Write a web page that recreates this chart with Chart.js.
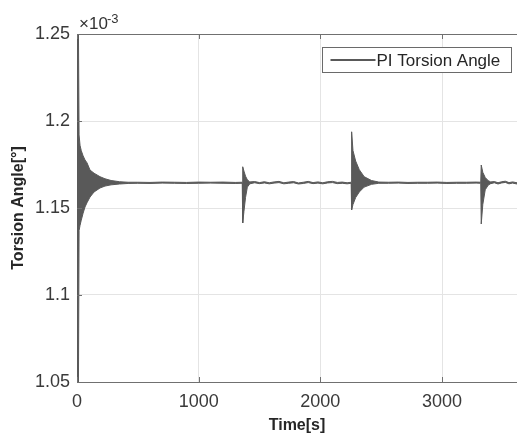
<!DOCTYPE html>
<html>
<head>
<meta charset="utf-8">
<script src="https://cdn.jsdelivr.net/npm/chart.js@4"></script>
<style>
  body { margin: 0; background: #fff; }
  #wrap { width: 517px; height: 437px; }
</style>
</head>
<body>
<div id="wrap"><canvas id="torsion" width="517" height="437"></canvas></div>
<script>
// time axis [s] and the envelope of the (very dense) oscillation, values in 1e-3 deg
const timeS = [
    0, 12, 17, 25, 35, 50, 66, 82, 107, 140, 189, 230, 280, 350, 420,
    500, 600, 700, 800, 900, 1000, 1100, 1200, 1300, 1358,
    1362, 1372, 1385, 1400, 1420,
    1460, 1500, 1540, 1580, 1620, 1660, 1700, 1740, 1780, 1820, 1860,
    1900, 1940, 1980, 2020, 2060, 2100, 2140, 2180, 2220, 2253,
    2257, 2268, 2290, 2320, 2360, 2420, 2480,
    2560, 2640, 2720, 2800, 2880, 2960, 3040, 3120, 3200, 3280, 3318,
    3322, 3335, 3355, 3380, 3400,
    3430, 3460, 3490, 3520, 3550, 3580, 3616
];
const upperEnv = [
    1.25, 1.25, 1.192, 1.186, 1.183, 1.180, 1.1776, 1.176, 1.1718, 1.1700, 1.1680, 1.1668, 1.1658, 1.1651, 1.1648,
    1.1648, 1.1647, 1.1649, 1.1648, 1.1647, 1.1649, 1.1648, 1.1649, 1.1647, 1.1648,
    1.1737, 1.1712, 1.1683, 1.1662, 1.1650,
    1.1652, 1.1646, 1.1651, 1.1645, 1.1650, 1.1653, 1.1645, 1.1649, 1.1652, 1.1644, 1.1648,
    1.1653, 1.1646, 1.1650, 1.1645, 1.1651, 1.1653, 1.1647, 1.1649, 1.1645, 1.1648,
    1.1938, 1.1830, 1.1770, 1.1720, 1.1680, 1.1658, 1.1649,
    1.1648, 1.1649, 1.1647, 1.1648, 1.1648, 1.1649, 1.1647, 1.1648, 1.1648, 1.1649, 1.1648,
    1.1747, 1.1705, 1.1675, 1.1657, 1.1650,
    1.1652, 1.1645, 1.1651, 1.1654, 1.1646, 1.1650, 1.1645
];
const lowerEnv = [
    1.05, 1.05, 1.137, 1.140, 1.143, 1.147, 1.1506, 1.1530, 1.1563, 1.1592, 1.1615, 1.1626, 1.1633, 1.1638, 1.1641,
    1.1642, 1.1641, 1.1643, 1.1642, 1.1641, 1.1642, 1.1643, 1.1642, 1.1641, 1.1642,
    1.1414, 1.1480, 1.1560, 1.1620, 1.1639,
    1.1645, 1.1640, 1.1644, 1.1639, 1.1643, 1.1646, 1.1639, 1.1642, 1.1645, 1.1638, 1.1641,
    1.1646, 1.1640, 1.1643, 1.1639, 1.1644, 1.1646, 1.1640, 1.1642, 1.1639, 1.1642,
    1.1489, 1.1520, 1.1560, 1.1592, 1.1620, 1.1636, 1.1642,
    1.1642, 1.1643, 1.1641, 1.1642, 1.1642, 1.1643, 1.1641, 1.1642, 1.1642, 1.1643, 1.1642,
    1.1408, 1.1520, 1.1605, 1.1632, 1.1640,
    1.1645, 1.1638, 1.1644, 1.1647, 1.1639, 1.1643, 1.1638
];
const xTicks = [0, 1000, 2000, 3000];
const yTicks = [1.05, 1.1, 1.15, 1.2, 1.25];
const seriesName = "PI Torsion Angle";

const FONT = "'Liberation Sans', Arial, sans-serif";
const lineColor = "#595959";

function toPoints(ys) {
    return timeS.map((t, i) => ({ x: t, y: ys[i] }));
}

// axes box, inner ticks, exponent label and the boxed legend (matlab look)
const matlabDecor = {
    id: "matlabDecor",
    afterDatasetsDraw(chart) {
        const { ctx, chartArea: a, scales } = chart;
        ctx.save();
        ctx.strokeStyle = "#707070";
        ctx.lineWidth = 1;
        ctx.beginPath();
        ctx.moveTo(a.left, a.top + 0.5); ctx.lineTo(a.right, a.top + 0.5);
        ctx.moveTo(a.left, a.bottom + 0.5); ctx.lineTo(a.right, a.bottom + 0.5);
        xTicks.forEach(v => {
            const px = Math.round(scales.x.getPixelForValue(v)) + 0.5;
            ctx.moveTo(px, a.bottom); ctx.lineTo(px, a.bottom - 5);
            ctx.moveTo(px, a.top); ctx.lineTo(px, a.top + 5);
        });
        yTicks.forEach(v => {
            const py = Math.round(scales.y.getPixelForValue(v)) + 0.5;
            ctx.moveTo(a.left, py); ctx.lineTo(a.left + 5, py);
        });
        ctx.stroke();

        // x10^-3
        ctx.fillStyle = "#333";
        ctx.textBaseline = "alphabetic";
        ctx.textAlign = "left";
        ctx.font = "17px " + FONT;
        ctx.fillText("\u00d710", a.left + 2, a.top - 5);
        ctx.font = "13px " + FONT;
        ctx.fillText("-3", a.left + 30, a.top - 11);

        // legend
        const lx = 322.5, ly = 47.5, lw = 189, lh = 25;
        ctx.fillStyle = "#fff";
        ctx.fillRect(lx, ly, lw, lh);
        ctx.strokeStyle = "#6a6a6a";
        ctx.strokeRect(lx, ly, lw, lh);
        ctx.strokeStyle = lineColor;
        ctx.lineWidth = 2;
        ctx.beginPath();
        ctx.moveTo(lx + 8, ly + 12.5); ctx.lineTo(lx + 53, ly + 12.5);
        ctx.stroke();
        ctx.fillStyle = "#262626";
        ctx.font = "17px " + FONT;
        ctx.textBaseline = "middle";
        ctx.fillText(seriesName, lx + 54, ly + 13.5);
        ctx.restore();
    }
};

new Chart(document.getElementById("torsion"), {
    type: "line",
    data: {
        datasets: [
            {
                label: seriesName,
                data: toPoints(upperEnv),
                borderColor: lineColor,
                backgroundColor: lineColor,
                borderWidth: 1,
                pointRadius: 0,
                fill: "+1",
            },
            {
                label: seriesName + " (lower)",
                data: toPoints(lowerEnv),
                borderColor: lineColor,
                borderWidth: 1,
                pointRadius: 0,
                fill: false,
            },
        ],
    },
    options: {
        responsive: false,
        animation: false,
        layout: { padding: { top: 34, right: 0, left: 0, bottom: 0 } },
        plugins: {
            legend: { display: false },
            tooltip: { enabled: false },
        },
        scales: {
            x: {
                type: "linear",
                min: 0,
                max: 3616,
                afterBuildTicks: s => { s.ticks = xTicks.map(v => ({ value: v })); },
                afterFit: s => { s.height = 55; s.paddingRight = 0; },
                ticks: {
                    padding: 9,
                    color: "#3a3a3a",
                    font: { family: FONT, size: 18 },
                    callback: v => String(v),
                },
                grid: { color: "#e4e4e4", drawTicks: false },
                border: { color: "#707070" },
                title: {
                    display: true,
                    text: "Time[s]",
                    color: "#262626",
                    font: { family: FONT, size: 16, weight: "bold" },
                    padding: { top: 0, bottom: 2 },
                },
            },
            y: {
                min: 1.05,
                max: 1.25,
                afterBuildTicks: s => { s.ticks = yTicks.map(v => ({ value: v })); },
                afterFit: s => { s.width = 77; },
                ticks: {
                    padding: 7,
                    color: "#3a3a3a",
                    font: { family: FONT, size: 18 },
                    callback: v => String(Number(v.toFixed(2))),
                },
                grid: { color: "#e4e4e4", drawTicks: false },
                border: { color: "#707070" },
                title: {
                    display: true,
                    text: "Torsion Angle[\u00b0]",
                    color: "#262626",
                    font: { family: FONT, size: 16, weight: "bold" },
                    padding: { top: 9, bottom: 0 },
                },
            },
        },
    },
    plugins: [matlabDecor],
});
</script>
</body>
</html>
